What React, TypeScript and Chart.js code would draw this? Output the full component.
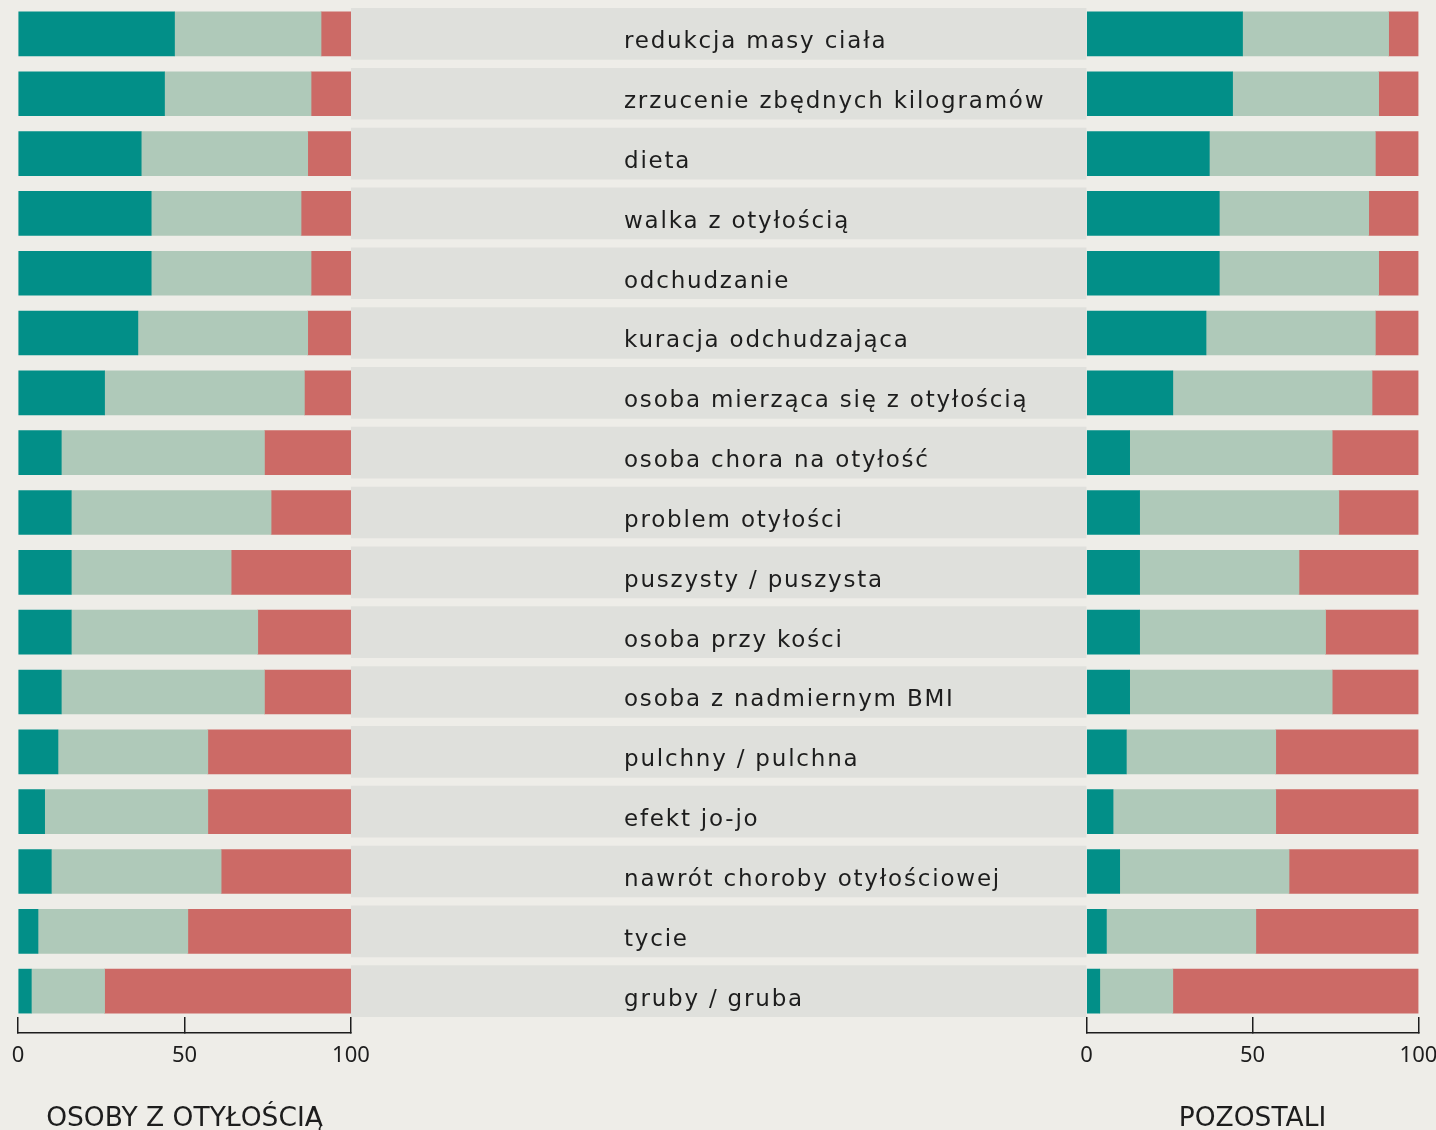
import React, { useEffect, useRef } from "react";
import { Chart, registerables } from "chart.js";

Chart.register(...registerables);

// ---------- data ----------
const categories = [
  "redukcja masy ciała",
  "zrzucenie zbędnych kilogramów",
  "dieta",
  "walka z otyłością",
  "odchudzanie",
  "kuracja odchudzająca",
  "osoba mierząca się z otyłością",
  "osoba chora na otyłość",
  "problem otyłości",
  "puszysty / puszysta",
  "osoba przy kości",
  "osoba z nadmiernym BMI",
  "pulchny / pulchna",
  "efekt jo-jo",
  "nawrót choroby otyłościowej",
  "tycie",
  "gruby / gruba",
];

// Osoby z otyłością (left panel), % of answers
const obeseTeal = [47, 44, 37, 40, 40, 36, 26, 13, 16, 16, 16, 13, 12, 8, 10, 6, 4];
const obeseSage = [44, 44, 50, 45, 48, 51, 60, 61, 60, 48, 56, 61, 45, 49, 51, 45, 22];
const obeseRed = [9, 12, 13, 15, 12, 13, 14, 26, 24, 36, 28, 26, 43, 43, 39, 49, 74];

// Pozostali (right panel), % of answers
const otherTeal = [47, 44, 37, 40, 40, 36, 26, 13, 16, 16, 16, 13, 12, 8, 10, 6, 4];
const otherSage = [44, 44, 50, 45, 48, 51, 60, 61, 60, 48, 56, 61, 45, 49, 51, 45, 22];
const otherRed = [9, 12, 13, 15, 12, 13, 14, 26, 24, 36, 28, 26, 43, 43, 39, 49, 74];

const xTickStep = 50;
const xMax = 100;
const panelTitles = ["OSOBY Z OTYŁOŚCIĄ", "POZOSTALI"];

// ---------- style ----------
const TEAL = "#028f88";
const SAGE = "#afc9b9";
const RED = "#cc6a66";
const BAND = "#dfe0dc";
const BG = "#eeede8";
const INK = "#1d1d1d";
const TICK_FONT = "'Noto Sans', sans-serif";
const TEXT_FONT = "'DejaVu Sans', 'Noto Sans', sans-serif";

const toPoints = (values: number[]) => values.map((v, i) => ({ x: v, y: i }));

const rowLabelPlugin = {
  id: "rowLabels",
  afterDatasetsDraw(chart: any) {
    const { ctx } = chart;
    const yS = chart.scales.y;
    const xM = chart.scales.xM;
    ctx.save();
    ctx.font = `400 23px ${TEXT_FONT}`;
    (ctx as any).letterSpacing = "1.8px";
    ctx.fillStyle = INK;
    ctx.textAlign = "left";
    ctx.textBaseline = "alphabetic";
    categories.forEach((c, i) => {
      ctx.fillText(c, xM.left + 273, yS.getPixelForValue(i) + 14.4);
    });
    ctx.restore();
  },
};

function panelAxis(title: string, weight: number, stackWeight: number) {
  return {
    type: "linear" as const,
    position: "bottom" as const,
    stack: "panels",
    stackWeight,
    weight,
    min: 0,
    max: xMax,
    stacked: true,
    ticks: {
      stepSize: xTickStep,
      color: INK,
      padding: 26,
      font: { family: TICK_FONT, size: 22, weight: 400 as any },
    },
    grid: {
      display: true,
      drawOnChartArea: false,
      drawTicks: true,
      tickLength: -16,
      color: INK,
      lineWidth: 1.5,
    },
    border: { display: true, color: INK, width: 1.5 },
    title: {
      display: true,
      text: title,
      color: INK,
      padding: 0,
      font: { family: TEXT_FONT, size: 26.5, weight: 400 as any, lineHeight: 0.85 },
    },
    afterFit: (s: any) => {
      s.height = 97;
      s.paddingLeft = 0;
      s.paddingRight = 0;
    },
  };
}

export default function App() {
  const ref = useRef<HTMLCanvasElement | null>(null);

  useEffect(() => {
    if (!ref.current) return;
    document.body.style.margin = "0";
    document.body.style.background = BG;

    const barCommon = {
      grouped: false,
      barThickness: 44,
      borderWidth: 0,
      yAxisID: "y",
    };

    const chart = new Chart(ref.current, {
      type: "bar",
      data: {
        datasets: [
          {
            ...barCommon,
            label: "band",
            data: categories.map((_, i) => ({ x: 1, y: i })),
            xAxisID: "xM",
            stack: "mid",
            barThickness: 51,
            backgroundColor: BAND,
          },
          { ...barCommon, label: "L1", data: toPoints(obeseTeal), xAxisID: "xL", stack: "left", backgroundColor: TEAL },
          { ...barCommon, label: "L2", data: toPoints(obeseSage), xAxisID: "xL", stack: "left", backgroundColor: SAGE },
          { ...barCommon, label: "L3", data: toPoints(obeseRed), xAxisID: "xL", stack: "left", backgroundColor: RED },
          { ...barCommon, label: "R1", data: toPoints(otherTeal), xAxisID: "xR", stack: "right", backgroundColor: TEAL },
          { ...barCommon, label: "R2", data: toPoints(otherSage), xAxisID: "xR", stack: "right", backgroundColor: SAGE },
          { ...barCommon, label: "R3", data: toPoints(otherRed), xAxisID: "xR", stack: "right", backgroundColor: RED },
        ] as any,
      },
      options: {
        indexAxis: "y",
        animation: false,
        responsive: false,
        maintainAspectRatio: false,
        devicePixelRatio: 1,
        layout: { padding: { left: 18, right: 17.5, top: 4, bottom: 0 } },
        plugins: { legend: { display: false }, tooltip: { enabled: false } },
        scales: {
          y: {
            type: "linear",
            min: -0.5,
            max: 16.7,
            reverse: true,
            display: false,
            offset: false,
            grid: { offset: false },
          },
          xL: panelAxis(panelTitles[0], 1, 333),
          xM: {
            type: "linear",
            position: "bottom",
            stack: "panels",
            stackWeight: 735.5,
            weight: 2,
            min: 0,
            max: 1,
            ticks: { display: false },
            grid: { display: false },
            border: { display: false },
            afterFit: (s: any) => {
              s.height = 97;
              s.paddingLeft = 0;
              s.paddingRight = 0;
            },
          },
          xR: panelAxis(panelTitles[1], 3, 332),
        } as any,
      },
      plugins: [rowLabelPlugin],
    });
    return () => chart.destroy();
  }, []);

  return (
    <div style={{ position: "absolute", left: 0, top: 0, width: 1436, height: 1130, background: BG }}>
      <canvas ref={ref} width={1436} height={1130} style={{ display: "block", width: 1436, height: 1130 }} />
    </div>
  );
}
